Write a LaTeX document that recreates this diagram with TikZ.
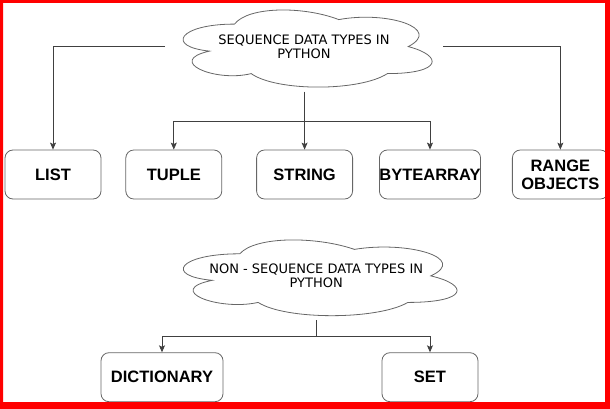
\documentclass[tikz,border=0pt]{standalone}
\usepackage{fontspec}
\setmainfont{Liberation Sans}
\newfontfamily\cloudfont{DejaVu Sans}
\usetikzlibrary{arrows.meta,positioning,calc}

% cloud outline drawn inside the box of a named node: #1 node, #2 width, #3 height
\newcommand{\cloudoutline}[3]{%
  \draw[cloudline, shift={(#1.north west)}, x=#2, y=-#3]
    (0.25,0.25) .. controls (0.05,0.25) and (0,0.5) .. (0.16,0.55)
    .. controls (0,0.66) and (0.18,0.9) .. (0.31,0.8)
    .. controls (0.4,1) and (0.7,1) .. (0.8,0.8)
    .. controls (1,0.8) and (1,0.6) .. (0.875,0.5)
    .. controls (1,0.3) and (0.8,0.1) .. (0.625,0.2)
    .. controls (0.5,0.05) and (0.3,0.05) .. (0.25,0.25) -- cycle;}

\begin{document}
\begin{tikzpicture}[x=1pt, y=-1pt,
    >={Stealth[length=7pt,width=6pt,inset=1.5pt]},
    typebox/.style={draw=black!60, line width=0.8pt, rounded corners=8pt, minimum width=96pt,
      minimum height=49pt, align=center, inner sep=0pt, font=\bfseries\fontsize{16.5}{18}\selectfont},
    cloudbox/.style={inner sep=0pt, outer sep=0pt, align=center,
      font=\cloudfont\fontsize{13}{13.5}\selectfont},
    cloudline/.style={draw=black!60, line width=0.8pt},
    link/.style={draw=black!75, line width=0.8pt}]
    \useasboundingbox (0,0) rectangle (610,409);

    \node[cloudbox, minimum width=278pt, minimum height=90pt] (seq) at (304,46.6)
      {SEQUENCE DATA TYPES IN\\PYTHON};
    \cloudoutline{seq}{278pt}{90pt}
    \node[typebox] (list) at (53,174.5) {LIST};
    \node[typebox, right=24pt of list] (tuple) {TUPLE};
    \node[typebox, right=34pt of tuple] (string) {STRING};
    \node[typebox, right=26pt of string] (bytearray) {BYTEARRAY};
    \node[typebox, right=31pt of bytearray] (range) {RANGE\\OBJECTS};

    \draw[link, ->] (seq.west) -| (list.north);
    \draw[link, ->] (seq.east) -| (range.north);
    \draw[link, ->] (seq.south -| string.north) -- (string.north);
    \draw[link, ->] ($(string.north)+(0,-28)$) coordinate (fork) -| (tuple.north);
    \draw[link, ->] (fork) -| (bytearray.north);

    \node[cloudbox, minimum width=305.6pt, minimum height=88.4pt] (nonseq) at (316.2,275.9)
      {NON - SEQUENCE DATA TYPES IN\\PYTHON};
    \cloudoutline{nonseq}{305.6pt}{88.4pt}
    \node[typebox, minimum width=122pt] (dict) at (162,377.2) {DICTIONARY};
    \node[typebox] (set) at (bytearray |- dict) {SET};

    \draw[link] (nonseq.south) -- ++(0,16) coordinate (fork2);
    \draw[link, ->] (fork2) -| (dict.north);
    \draw[link, ->] (fork2) -| (set.north);

    \fill[red, even odd rule] (0,0) rectangle (610,409) (3,3) rectangle (605,402);
\end{tikzpicture}
\end{document}
